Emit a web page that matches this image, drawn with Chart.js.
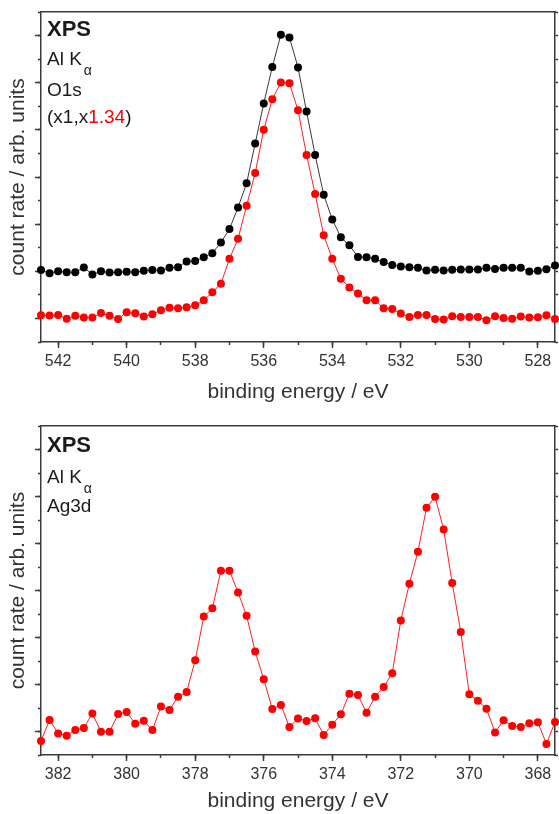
<!DOCTYPE html>
<html>
<head>
<meta charset="utf-8">
<script src="https://cdn.jsdelivr.net/npm/chart.js@4"></script>
<style>
  html, body { margin: 0; padding: 0; background: #fff; }
  #wrap { position: relative; width: 559px; height: 814px; overflow: hidden; }
  canvas { position: absolute; left: 0; }
  .ann { position: absolute; font-family: 'Liberation Sans', Arial, Helvetica, sans-serif; font-size: 19px; line-height: 1; color: #1a1a1a; white-space: nowrap; }
  .ann.b { font-weight: bold; font-size: 22px; }
  .sub { position: relative; top: 10px; font-size: 14px; margin-left: 2px; }
  .red { color: #ff0000; }
</style>
</head>
<body>
<div id="wrap">
  <canvas id="c1" width="559" height="407" style="top:0"></canvas>
  <canvas id="c2" width="559" height="407" style="top:407px"></canvas>
  <div class="ann b" style="left:47px;top:18px">XPS</div>
  <div class="ann" style="left:47px;top:49px">Al K<span class="sub">α</span></div>
  <div class="ann" style="left:47px;top:80px">O1s</div>
  <div class="ann" style="left:47px;top:107px">(x1,x<span class="red">1.34</span>)</div>
  <div class="ann b" style="left:47px;top:434px">XPS</div>
  <div class="ann" style="left:47px;top:467px">Al K<span class="sub">α</span></div>
  <div class="ann" style="left:47px;top:496px">Ag3d</div>
</div>
<script>
// ---------- data ----------
const energyO1s = [542.5, 542.25, 542, 541.75, 541.5, 541.25, 541, 540.75, 540.5, 540.25,
  540, 539.75, 539.5, 539.25, 539, 538.75, 538.5, 538.25, 538, 537.75,
  537.5, 537.25, 537, 536.75, 536.5, 536.25, 536, 535.75, 535.5, 535.25,
  535, 534.75, 534.5, 534.25, 534, 533.75, 533.5, 533.25, 533, 532.75,
  532.5, 532.25, 532, 531.75, 531.5, 531.25, 531, 530.75, 530.5, 530.25,
  530, 529.75, 529.5, 529.25, 529, 528.75, 528.5, 528.25, 528, 527.75, 527.5];
const o1sBlack = [2.05, 1.92, 2.00, 1.96, 1.96, 2.16, 1.86, 2.00, 1.95, 1.96,
  1.98, 1.96, 2.02, 2.05, 2.03, 2.15, 2.17, 2.42, 2.44, 2.60,
  2.77, 3.22, 3.79, 4.71, 5.73, 7.42, 9.12, 10.67, 12.03, 11.92,
  10.65, 8.78, 6.93, 5.25, 4.20, 3.44, 3.10, 2.61, 2.60, 2.53,
  2.39, 2.27, 2.20, 2.17, 2.15, 2.03, 2.06, 2.03, 2.06, 2.08,
  2.08, 2.08, 2.15, 2.10, 2.15, 2.15, 2.15, 1.99, 2.02, 2.09, 2.25];
const o1sRed = [0.13, 0.12, 0.15, -0.01, 0.11, 0.04, 0.04, 0.23, 0.11, -0.02,
  0.26, 0.22, 0.08, 0.18, 0.35, 0.45, 0.43, 0.47, 0.56, 0.77,
  1.11, 1.47, 2.53, 3.38, 4.78, 6.17, 8.0, 9.3, 10.01, 9.98,
  8.83, 6.93, 5.28, 3.53, 2.53, 1.68, 1.31, 1.06, 0.77, 0.77,
  0.43, 0.40, 0.21, 0.06, 0.15, 0.15, -0.02, -0.05, 0.09, 0.06,
  0.06, 0.06, -0.08, 0.09, 0.02, -0.01, 0.08, 0.04, 0.05, 0.13, -0.02];

const energyAg3d = [382.5, 382.25, 382, 381.75, 381.5, 381.25, 381, 380.75, 380.5, 380.25,
  380, 379.75, 379.5, 379.25, 379, 378.75, 378.5, 378.25, 378, 377.75,
  377.5, 377.25, 377, 376.75, 376.5, 376.25, 376, 375.75, 375.5, 375.25,
  375, 374.75, 374.5, 374.25, 374, 373.75, 373.5, 373.25, 373, 372.75,
  372.5, 372.25, 372, 371.75, 371.5, 371.25, 371, 370.75, 370.5, 370.25,
  370, 369.75, 369.5, 369.25, 369, 368.75, 368.5, 368.25, 368, 367.75, 367.5];
const ag3dRed = [-0.40, 0.49, -0.08, -0.18, 0.06, 0.15, 0.77, -0.01, -0.01, 0.74,
  0.83, 0.33, 0.46, 0.06, 1.06, 0.91, 1.48, 1.68, 3.03, 4.89,
  5.24, 6.84, 6.84, 5.92, 4.93, 3.40, 2.22, 0.96, 1.13, 0.19,
  0.55, 0.45, 0.56, -0.15, 0.29, 0.73, 1.61, 1.55, 0.80, 1.48,
  1.89, 2.48, 4.72, 6.29, 7.65, 9.52, 9.99, 8.60, 6.32, 4.23,
  1.58, 1.31, 0.97, -0.04, 0.48, 0.23, 0.19, 0.35, 0.39, -0.53, 0.40];

const rangeO1s = [527.5, 542.5];
const rangeAg3d = [367.5, 382.5];
const xMajorO1s = [542, 540, 538, 536, 534, 532, 530, 528];
const xMinorO1s = [542, 541, 540, 539, 538, 537, 536, 535, 534, 533, 532, 531, 530, 529, 528];
const xMajorAg3d = [382, 380, 378, 376, 374, 372, 370, 368];
const xMinorAg3d = [382, 381, 380, 379, 378, 377, 376, 375, 374, 373, 372, 371, 370, 369, 368];
const yRange = [-1, 13];
const yMajor = [0, 2, 4, 6, 8, 10, 12];
const yMinor = [-1, 0, 1, 2, 3, 4, 5, 6, 7, 8, 9, 10, 11, 12, 13];
const xTitle = 'binding energy / eV';
const yTitle = 'count rate / arb. units';

// ---------- chart ----------
Chart.defaults.font.family = "'Liberation Sans', Arial, Helvetica, sans-serif";
Chart.defaults.color = '#333';
const AX = '#3a3a3a';
const setTicks = arr => s => { s.ticks = arr.map(v => ({ value: v })); };

function build(id, energies, series, xr, xMajor, xMinor, padTop, axisH, padBottom) {
  const datasets = series.map(s => ({
    data: energies.map((e, i) => ({ x: e, y: s.values[i] })),
    showLine: true,
    borderColor: s.line,
    borderWidth: 1,
    pointRadius: 4,
    pointBorderWidth: 0,
    pointBackgroundColor: s.dot,
    pointBorderColor: s.dot,
    backgroundColor: s.dot,
    tension: 0,
    clip: false
  }));
  const tickGrid = len => ({ drawOnChartArea: false, tickLength: len, color: AX, tickWidth: 1.5 });
  return new Chart(document.getElementById(id), {
    type: 'scatter',
    data: { datasets },
    options: {
      responsive: false,
      animation: false,
      devicePixelRatio: 1,
      layout: { padding: { top: padTop, bottom: padBottom, left: 0, right: 0 } },
      plugins: { legend: { display: false }, tooltip: { enabled: false } },
      scales: {
        x: {
          type: 'linear', position: 'bottom', min: xr[0], max: xr[1], reverse: true,
          afterBuildTicks: setTicks(xMajor),
          afterFit: s => { s.height = axisH; },
          ticks: { font: { size: 16 }, color: '#333', padding: 4, maxRotation: 0, autoSkip: false },
          grid: tickGrid(6),
          border: { display: true, color: AX, width: 1.5 },
          title: { display: true, text: xTitle, font: { size: 21 }, color: '#333', padding: 0 }
        },
        xm: {
          type: 'linear', position: { y: yRange[0] }, min: xr[0], max: xr[1], reverse: true,
          afterBuildTicks: setTicks(xMinor),
          ticks: { display: false },
          grid: tickGrid(3),
          border: { display: false }
        },
        xt: {
          type: 'linear', position: 'top', min: xr[0], max: xr[1], reverse: true,
          ticks: { display: false },
          grid: { display: false },
          border: { display: true, color: AX, width: 1.5 },
          afterFit: s => { s.height = 0; }
        },
        y: {
          type: 'linear', position: 'left', min: yRange[0], max: yRange[1],
          afterBuildTicks: setTicks(yMajor),
          afterFit: s => { s.width = 41; },
          ticks: { display: false },
          grid: tickGrid(6),
          border: { display: true, color: AX, width: 1.5 },
          title: { display: true, text: yTitle, font: { size: 21 }, color: '#333', padding: { top: 6, bottom: 0 } }
        },
        ym: {
          type: 'linear', position: { x: xr[1] }, min: yRange[0], max: yRange[1],
          afterBuildTicks: setTicks(yMinor),
          ticks: { display: false },
          grid: tickGrid(3),
          border: { display: false }
        },
        yr: {
          type: 'linear', position: 'right', min: yRange[0], max: yRange[1],
          afterBuildTicks: setTicks(yMinor),
          ticks: { display: false },
          grid: tickGrid(3),
          border: { display: true, color: AX, width: 1.5 },
          afterFit: s => { s.width = 1; }
        }
      }
    }
  });
}

build('c1', energyO1s, [
  { values: o1sBlack, line: '#3a3a3a', dot: '#000000' },
  { values: o1sRed, line: '#ff2020', dot: '#ff0000' }
], rangeO1s, xMajorO1s, xMinorO1s, 12, 63, 2);

build('c2', energyAg3d, [
  { values: ag3dRed, line: '#ff2020', dot: '#ff0000' }
], rangeAg3d, xMajorAg3d, xMinorAg3d, 19, 59, 0);
</script>
</body>
</html>
